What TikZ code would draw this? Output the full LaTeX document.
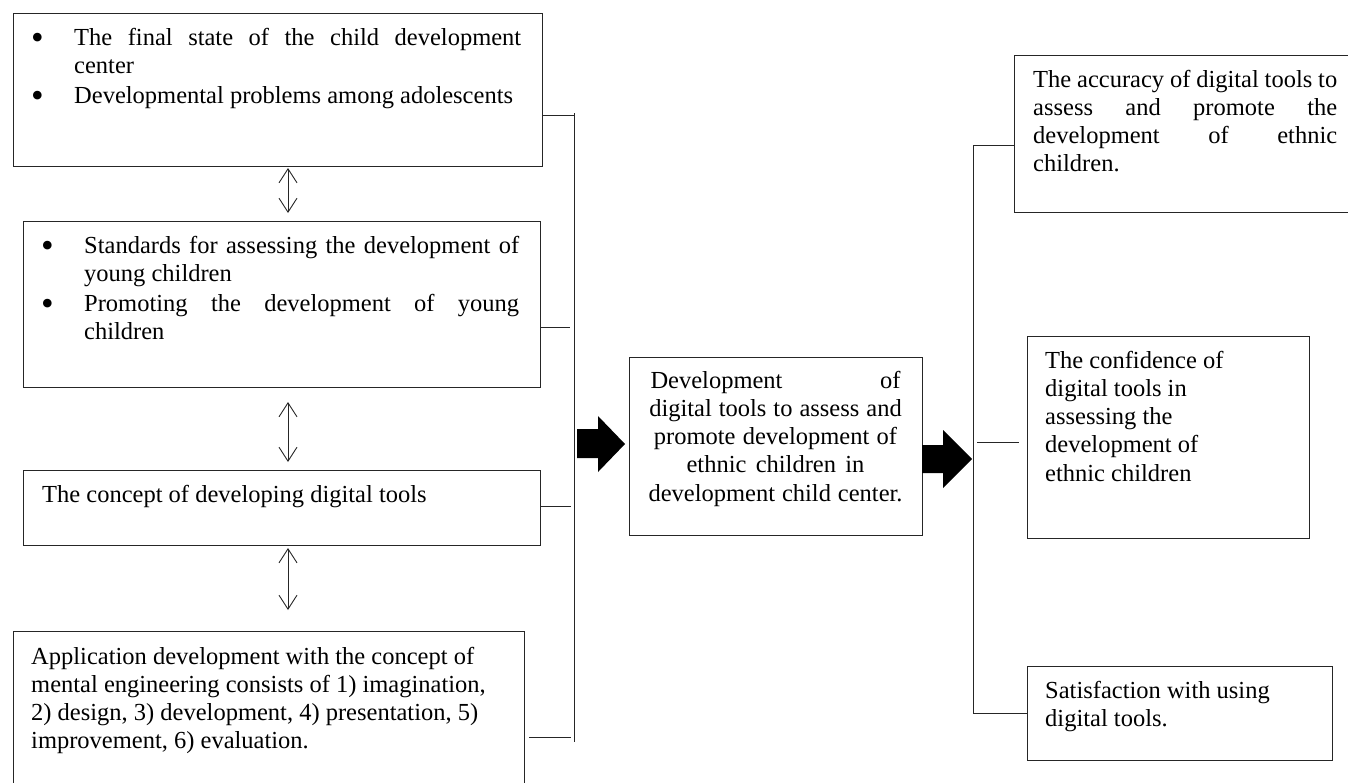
\documentclass[tikz,border=0pt]{standalone}
\usepackage{fontspec}
\setmainfont{Liberation Serif}
\usetikzlibrary{arrows.meta}
\newcommand{\jl}[2]{{\spaceskip=0pt\xspaceskip=0pt\makebox[#1][s]{#2}}}
\newcommand{\bul}{\makebox[43pt][l]{\raisebox{-4pt}{\fontsize{36pt}{28pt}\selectfont\textbullet}}}
\begin{document}
\begin{tikzpicture}[x=1pt,y=-1pt,
  box/.style={draw=black!85, line width=1pt, rectangle, inner sep=0pt, outer sep=0pt, anchor=north west},
  txt/.style={inner sep=0pt, anchor=north west, align=left, font=\fontsize{24.5pt}{28.2pt}\selectfont,
    execute at begin node={\spaceskip=0pt\xspaceskip=0pt}},
  link/.style={draw=black!85, line width=1pt},
  dbl/.style={draw=black!85, line width=0.9pt, {Straight Barb[length=14pt,width=18pt]}-{Straight Barb[length=14pt,width=18pt]}},
  bigarrow/.style={fill=black}]
\useasboundingbox (0,0) rectangle (1348,782);
% left boxes
\node[box, minimum width=529pt, minimum height=153pt] (b1) at (13,13) {};
\node[box, minimum width=517pt, minimum height=166pt] (b2) at (23,221) {};
\node[box, minimum width=517pt, minimum height=75pt] (b3) at (23,470) {};
\node[box, minimum width=511pt, minimum height=162pt] (b4) at (13,631) {};
% middle box
\node[box, minimum width=293pt, minimum height=178pt] (m) at (629,357) {};
% right boxes
\node[box, minimum width=345pt, minimum height=157pt] (r1) at (1014,55) {};
\node[box, minimum width=282pt, minimum height=202pt] (r2) at (1027,336) {};
\node[box, minimum width=305pt, minimum height=94pt] (r3) at (1027,666) {};
% texts
\node[txt, text width=500pt] (t1) at (31,25.3) {\strut\bul\jl{447pt}{The final state of the child development}\\
\strut\hspace*{43pt}center\\[2pt]
\strut\bul Developmental problems among adolescents};
\node[txt, text width=490pt] (t2) at (41,233.3) {\strut\bul\jl{435pt}{Standards for assessing the development of}\\
\strut\hspace*{43pt}young children\\[2pt]
\strut\bul\jl{435pt}{Promoting the development of young}\\
\strut\hspace*{43pt}children};
\node[txt, text width=480pt] (t3) at (42,482.3) {\strut The concept of developing digital tools};
\node[txt, text width=490pt] (t4) at (31,644.3) {\strut Application development with the concept of\\
mental engineering consists of 1) imagination,\\
2) design, 3) development, 4) presentation, 5)\\
improvement, 6) evaluation.};
\node[txt, text width=280pt, align=center, anchor=north] (tm) at (775.5,368.3) {\strut\jl{250pt}{Development of}\\
digital tools to assess and\\
promote development of\\
ethnic children in\\
development child center.};
\node[txt, text width=320pt] (tr1) at (1033,67.3) {\strut\jl{304pt}{The accuracy of digital tools to}\\
\jl{304pt}{assess and promote the}\\
\jl{304pt}{development of ethnic}\\
children.};
\node[txt, text width=260pt] (tr2) at (1045,348.3) {\strut The confidence of\\
digital tools in\\
assessing the\\
development of\\
ethnic children};
\node[txt, text width=280pt] (tr3) at (1045,678.3) {\strut Satisfaction with using\\
digital tools.};
% left spine and connectors
\coordinate (lt) at (574,113);
\coordinate (lb) at (574,742);
\coordinate (c1) at (574,115);
\coordinate (c2) at (574,327);
\coordinate (c3) at (574,506);
\coordinate (c4) at (574,737);
\draw[link] (lt) -- (lb);
\draw[link] (c1 -| b1.east) -- (c1);
\draw[link, shorten >=4pt] (c2 -| b2.east) -- (c2);
\draw[link, shorten >=3pt] (c3 -| b3.east) -- (c3);
\draw[link, shorten <=5pt, shorten >=3pt] (c4 -| b4.east) -- (c4);
% right spine and connectors
\coordinate (rt) at (973,145);
\coordinate (rb) at (973,713);
\coordinate (rm) at (973,442);
\draw[link] (rt -| r1.west) -- (rt) -- (rb) -- (rb -| r3.west);
\draw[link, shorten <=4pt, shorten >=8pt] (rm) -- (rm -| r2.west);
% double arrows
\coordinate (a1s) at (288,168); \coordinate (a1e) at (288,213);
\coordinate (a2s) at (288,402); \coordinate (a2e) at (288,462);
\coordinate (a3s) at (288,548); \coordinate (a3e) at (288,610);
\draw[dbl] (a1s) -- (a1e);
\draw[dbl] (a2s) -- (a2e);
\draw[dbl] (a3s) -- (a3e);
% big block arrows
\fill[bigarrow] (577,429) -- (598,429) -- (598,416) -- (625,444) -- (598,472) -- (598,458) -- (577,458) -- cycle;
\fill[bigarrow] (922,445) -- (943,445) -- (943,430) -- (972,459) -- (943,488) -- (943,473) -- (922,473) -- cycle;
\end{tikzpicture}
\end{document}
